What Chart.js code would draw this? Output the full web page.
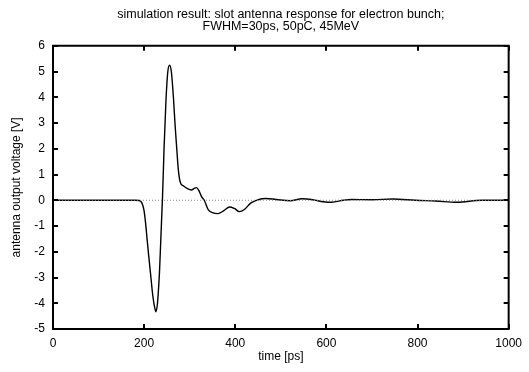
<!DOCTYPE html>
<html>
<head>
<meta charset="utf-8">
<script src="https://cdn.jsdelivr.net/npm/chart.js@4/dist/chart.umd.min.js"></script>
<style>
  html, body { margin: 0; padding: 0; background: #ffffff; }
  #wrap { width: 529px; height: 372px; position: relative; }
</style>
</head>
<body>
<div id="wrap"><canvas id="antennaChart"></canvas></div>
<script>
const titleLines = [
  "simulation result: slot antenna response for electron bunch;",
  "FWHM=30ps, 50pC, 45MeV"
];

// time axis [ps] and simulated antenna voltage [V]
const timePs = [
  0, 100, 180, 189, 193, 196, 199.6, 203, 206.7, 210, 214, 219, 223, 226,
  229, 231, 233.6, 238, 240.5, 243.6, 248, 252, 256, 260, 264.6, 268,
  271.8, 275, 279, 286, 295, 304, 310, 315, 320, 326, 332, 340.6, 350,
  362, 375, 387.6, 398, 409, 420, 434.5, 450, 467, 490, 521, 546.6,
  570, 593.7, 611.7, 637, 655, 700, 745.6, 796, 840, 886.5, 940.8, 1000
];
const voltage = [
  0, 0, 0, -0.01, -0.05, -0.15, -0.38, -0.85, -1.55, -2.15, -2.84, -3.7, -4.15, -4.33,
  -4.05, -3.6, -2.83, -0.9, 0.2, 1.95, 3.9, 5.0, 5.24, 4.95, 3.9, 2.9,
  1.95, 1.2, 0.72, 0.56, 0.45, 0.4, 0.46, 0.49, 0.38, 0.14, 0.0, -0.36, -0.48,
  -0.52, -0.4, -0.26, -0.32, -0.44, -0.36, -0.1, 0.02, 0.07, 0.03, -0.02, 0.06,
  0.02, -0.06, -0.08, 0.0, 0.03, 0.02, 0.05, 0.0, -0.03, -0.08, 0.0, 0.0
];

const zeroLineX = [0, 1000];
const zeroLineY = [0, 0];

const xTickStep = 200;
const yTickStep = 1;

const xTitle = "time [ps]";
const yTitle = "antenna output voltage [V]";

const fontFamily = "'Liberation Sans', Arial, sans-serif";

// gnuplot style frame with inward ticks on all four sides
const framePlugin = {
  id: "frame",
  afterDatasetsDraw(chart) {
    const { ctx, chartArea, scales } = chart;
    const tickLen = 5;
    ctx.save();
    ctx.strokeStyle = "#000000";
    ctx.lineWidth = 2;
    ctx.beginPath();
    scales.x.ticks.forEach(t => {
      const px = Math.round(scales.x.getPixelForValue(t.value));
      ctx.moveTo(px, chartArea.bottom);
      ctx.lineTo(px, chartArea.bottom - tickLen);
      ctx.moveTo(px, chartArea.top);
      ctx.lineTo(px, chartArea.top + tickLen);
    });
    scales.y.ticks.forEach(t => {
      const py = Math.round(scales.y.getPixelForValue(t.value));
      ctx.moveTo(chartArea.left, py);
      ctx.lineTo(chartArea.left + tickLen, py);
      ctx.moveTo(chartArea.right, py);
      ctx.lineTo(chartArea.right - tickLen, py);
    });
    ctx.stroke();
    ctx.strokeRect(chartArea.left, chartArea.top,
      chartArea.right - chartArea.left, chartArea.bottom - chartArea.top);
    ctx.restore();
  }
};

const ctx = document.getElementById("antennaChart").getContext("2d");

new Chart(ctx, {
  type: "line",
  data: {
    datasets: [
      {
        label: "zero",
        data: zeroLineX.map((x, i) => ({ x: x, y: zeroLineY[i] })),
        borderColor: "#8a8a8a",
        borderWidth: 1,
        borderDash: [1, 2],
        pointRadius: 0,
        tension: 0
      },
      {
        label: "antenna response",
        data: timePs.map((t, i) => ({ x: t, y: voltage[i] })),
        borderColor: "#000000",
        borderWidth: 1.4,
        pointRadius: 0,
        cubicInterpolationMode: "monotone",
        fill: false
      }
    ]
  },
  options: {
    responsive: true,
    maintainAspectRatio: false,
    animation: false,
    layout: {
      padding: { left: 0, right: 14, top: 0, bottom: 0 }
    },
    plugins: {
      legend: { display: false },
      tooltip: { enabled: false },
      title: {
        display: true,
        text: titleLines,
        fullSize: false,
        color: "#000000",
        font: { family: fontFamily, size: 12.5, weight: "normal", lineHeight: 0.95 },
        padding: { top: 9, bottom: 13 }
      }
    },
    scales: {
      x: {
        type: "linear",
        min: 0,
        max: 1000,
        afterFit(scale) { scale.height = 43; },
        ticks: {
          stepSize: xTickStep,
          color: "#000000",
          padding: 7,
          maxRotation: 0,
          callback: value => String(value),
          font: { family: fontFamily, size: 12 }
        },
        grid: { display: false, drawTicks: false },
        border: { display: false },
        title: {
          display: true,
          text: xTitle,
          color: "#000000",
          font: { family: fontFamily, size: 12 },
          padding: { top: 0, bottom: 8 }
        }
      },
      y: {
        type: "linear",
        min: -5,
        max: 6,
        afterFit(scale) { scale.width = 53; },
        ticks: {
          stepSize: yTickStep,
          color: "#000000",
          padding: 8,
          callback: value => String(value),
          font: { family: fontFamily, size: 12 }
        },
        grid: { display: false, drawTicks: false },
        border: { display: false },
        title: {
          display: true,
          text: yTitle,
          color: "#000000",
          font: { family: fontFamily, size: 12 },
          padding: { top: 9, bottom: 0 }
        }
      }
    }
  },
  plugins: [framePlugin]
});
</script>
</body>
</html>
